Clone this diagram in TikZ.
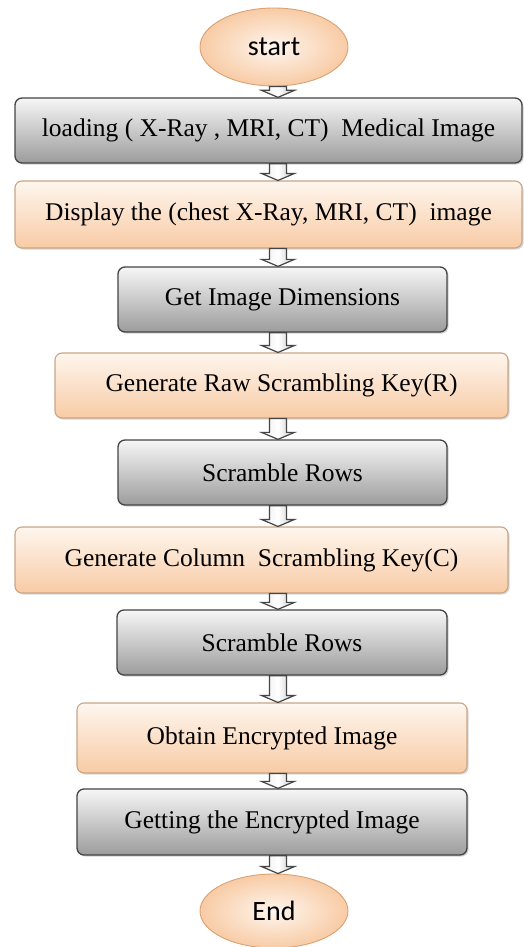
\documentclass[tikz,border=0pt]{standalone}
\usepackage{fontspec}
\setmainfont{Liberation Serif}
\newfontfamily\labelfont{Carlito}
\usetikzlibrary{shapes.geometric,shadows,calc}

\definecolor{grayedge}{HTML}{454545}
\definecolor{graytop}{HTML}{F6F6F6}
\definecolor{graybot}{HTML}{9C9C9C}
\definecolor{peachedge}{HTML}{C9A586}
\definecolor{peachtop}{HTML}{FEF6EE}
\definecolor{peachbot}{HTML}{F8CBA5}
\definecolor{ovaledge}{HTML}{D9A273}

\tikzset{
  stepgray/.style={draw=grayedge, line width=1.3pt, rounded corners=7pt,
    top color=graytop, bottom color=graybot, inner sep=0pt,
    drop shadow={shadow xshift=1.5pt, shadow yshift=-1.5pt, opacity=0.35},
    font=\fontsize{25.5}{29}\selectfont},
  steppeach/.style={draw=peachedge, line width=1.1pt, rounded corners=7pt,
    top color=peachtop, bottom color=peachbot, inner sep=0pt,
    drop shadow={shadow xshift=1.5pt, shadow yshift=-1.5pt, opacity=0.3},
    font=\fontsize{25.5}{29}\selectfont},
  terminal/.style={ellipse, draw=ovaledge, line width=0.9pt, inner sep=0pt,
    inner color=peachtop, outer color=peachbot,
    minimum width=148pt, minimum height=78pt,
    font=\labelfont\fontsize{28}{32}\selectfont},
  flowarr/.style={draw=grayedge, line width=1.2pt, line join=miter,
    left color=gray!15, right color=gray!45, middle color=white},
}

% hollow block arrow from the bottom of #1 to the top of #2
\newcommand{\flowarrow}[2]{%
  \draw[flowarr] let \p1=(#1.south -| spine), \p2=(#2.north -| spine) in
    (\x1-8.5pt,\y1) -- (\x1-8.5pt,\y2+7pt) -- (\x1-16.5pt,\y2+7pt)
    -- (\x1,\y2) -- (\x1+16.5pt,\y2+7pt) -- (\x1+8.5pt,\y2+7pt)
    -- (\x1+8.5pt,\y1) -- cycle;}

\begin{document}
\begin{tikzpicture}[x=1pt, y=-1pt]
  \useasboundingbox[fill=white] (0,0) rectangle (524,947);
  \coordinate (spine) at (278,0);

  \node[terminal] (start) at (274,47) {start};
  \node[stepgray, minimum width=507pt, minimum height=65pt] (load) at (268.5,130.5)
    {loading ( X-Ray , MRI, CT)\ \ Medical Image};
  \node[steppeach, minimum width=507pt, minimum height=67pt] (show) at (268.5,214.5)
    {Display the (chest X-Ray, MRI, CT)\ \ image};
  \node[stepgray, minimum width=329pt, minimum height=65pt] (dims) at (282.5,299.5)
    {Get Image Dimensions};
  \node[steppeach, minimum width=453pt, minimum height=65pt] (rowkey) at (281.5,385.5)
    {Generate Raw Scrambling Key(R)};
  \node[stepgray, minimum width=329pt, minimum height=65pt] (rows1) at (282.5,472.5)
    {Scramble Rows};
  \node[steppeach, minimum width=493pt, minimum height=66pt] (colkey) at (261.5,560)
    {Generate Column\ \ Scrambling Key(C)};
  \node[stepgray, minimum width=330pt, minimum height=65pt] (rows2) at (282,642.5)
    {Scramble Rows};
  \node[steppeach, minimum width=390pt, minimum height=70pt] (obtain) at (272,738)
    {Obtain Encrypted Image};
  \node[stepgray, minimum width=390pt, minimum height=66pt] (result) at (272,822)
    {Getting the Encrypted Image};
  \node[terminal, minimum height=74pt] (end) at (274,911) {End};

  \foreach \a/\b in {start/load, load/show, show/dims, dims/rowkey, rowkey/rows1,
      rows1/colkey, colkey/rows2, rows2/obtain, obtain/result, result/end}
    \flowarrow{\a}{\b};
\end{tikzpicture}
\end{document}
